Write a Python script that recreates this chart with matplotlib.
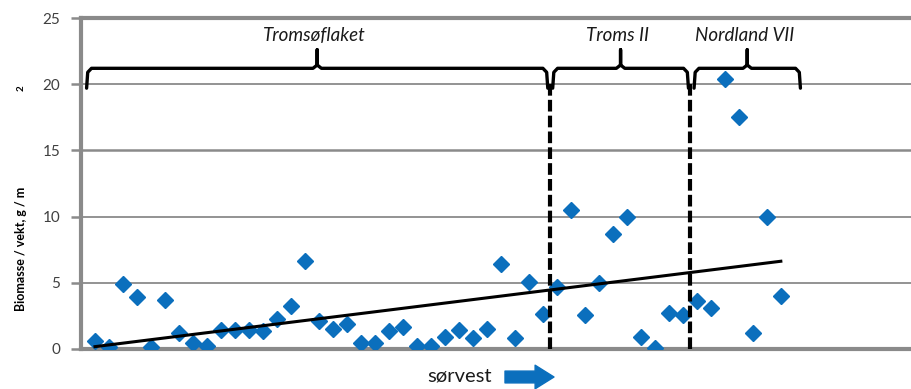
import numpy as np
import matplotlib
matplotlib.use("Agg")
import matplotlib.pyplot as plt

plt.rcParams["font.family"] = ["Lato", "DejaVu Sans"]

# station index (sorted towards south-west) and biomass values
station = np.arange(1, 51)
biomass = [0.63, 0.17, 4.9, 3.9, 0.13, 3.7, 1.2, 0.43, 0.23, 1.43,
           1.43, 1.43, 1.38, 2.3, 3.25, 6.67, 2.14, 1.49, 1.86, 0.43,
           0.43, 1.38, 1.64, 0.23, 0.23, 0.93, 1.43, 0.8, 1.49, 6.42,
           0.8, 5.04, 2.64, 4.65, 10.5, 2.57, 5.0, 8.7, 10.0, 0.93,
           0.1, 2.74, 2.57, 3.65, 3.07, 20.37, 17.55, 1.23, 9.95, 4.03]

regions = ["Tromsøflaket", "Troms II", "Nordland VII"]
region_edges = [(0.4, 33.35), (33.7, 43.4), (43.8, 51.4)]
boundaries = [33.5, 43.5]
yticks = [0, 5, 10, 15, 20, 25]

blue = "#0b6fbd"
grey = "#8a8a8a"


def brace(ax, x0, x1, y=21.2):
    xm = (x0 + x1) / 2
    xs = [x0, x0 + 0.08, x0 + 0.35, xm - 0.3, xm, xm, xm, xm + 0.3, x1 - 0.35, x1 - 0.08, x1]
    ys = [19.7, 20.9, y, y, y + 0.25, y + 1.4, y + 0.25, y, y, 20.9, 19.7]
    ax.plot(xs, ys, color="black", lw=2.4, solid_capstyle="round", zorder=4)
    return xm


def main():
    fig = plt.figure(figsize=(9.11, 3.89), dpi=100)
    ax = fig.add_axes([81 / 911, 40 / 389, 830 / 911, 331 / 389])

    ax.set_xlim(0, 59.3)
    ax.set_ylim(0, 25)
    ax.set_yticks(yticks)
    ax.set_xticks([])
    ax.tick_params(axis="y", length=7, width=1.8, color=grey, labelsize=11,
                   labelcolor="#404040", pad=8)
    for y in yticks[1:-1]:
        ax.axhline(y, color=grey, lw=1.8 if y == 15 else 1.3, zorder=1)
    for s in ["left", "bottom", "top"]:
        ax.spines[s].set_color(grey)
        ax.spines[s].set_linewidth(3)
    ax.spines["right"].set_visible(False)

    ax.plot(station, biomass, "D", color=blue, ms=8.5, mec=blue, zorder=3)

    k, m = np.polyfit(station, biomass, 1)
    ax.plot(station, k * station + m, color="black", lw=2.2, zorder=4)

    for b in boundaries:
        ax.plot([b, b], [0, 20], color="black", lw=3, ls=(0, (2.8, 1.0)), zorder=4)

    for name, (x0, x1) in zip(regions, region_edges):
        xm = brace(ax, x0, x1)
        ax.text(xm - 0.2, 23.7, name, ha="center", va="center", style="italic",
                fontsize=13.5, color="#1a1a1a")

    fig.text(21 / 911, 1 - 249 / 389, "Biomasse / vekt, g / m", rotation=90,
             ha="center", va="center", fontsize=9, fontweight="bold")
    fig.text(21 / 911, 1 - 88 / 389, "2", rotation=90, ha="center", va="center",
             fontsize=7, fontweight="bold")

    fig.text(460 / 911, 1 - 376 / 389, "sørvest", ha="center", va="center",
             fontsize=14.5, color="#1a1a1a")
    ax.annotate("", xy=(554 / 911, 1 - 377 / 389), xytext=(505 / 911, 1 - 377 / 389),
                xycoords="figure fraction", textcoords="figure fraction",
                arrowprops=dict(arrowstyle="simple,head_length=0.8,head_width=1.0,tail_width=0.5",
                                mutation_scale=17, color=blue, shrinkA=0, shrinkB=0),
                annotation_clip=False)

    fig.savefig("out.png", dpi=100)


if __name__ == "__main__":
    main()
